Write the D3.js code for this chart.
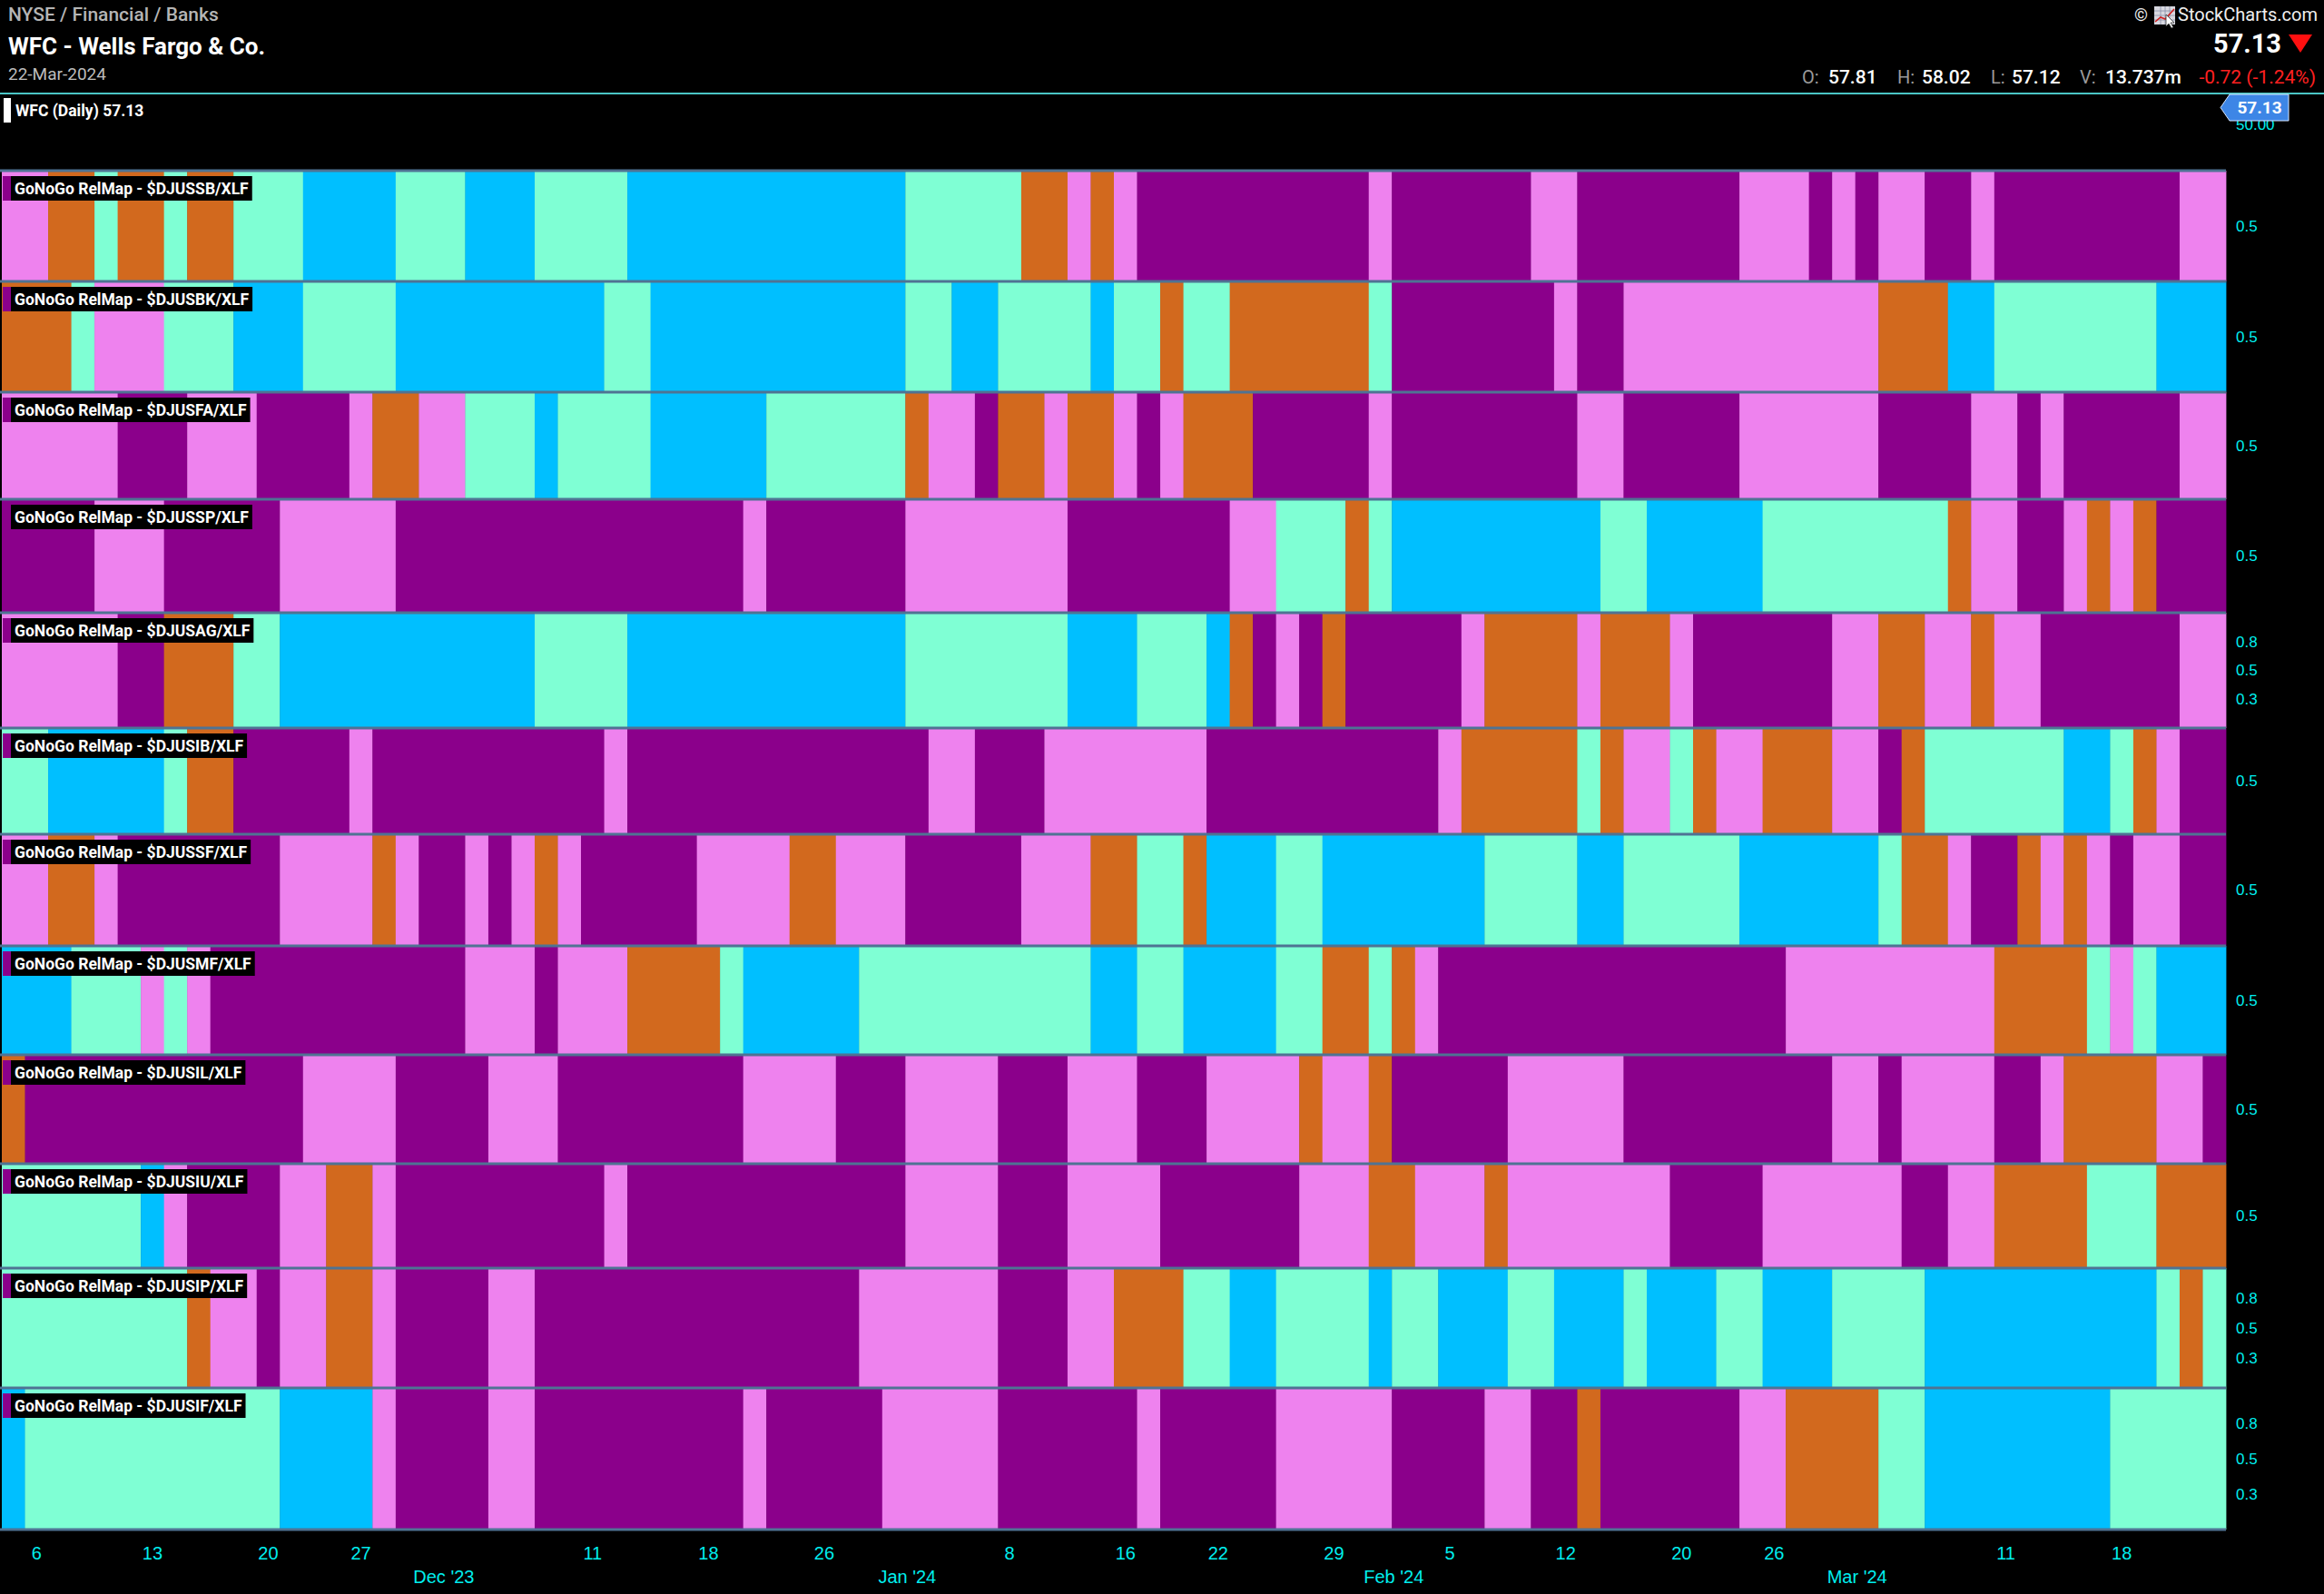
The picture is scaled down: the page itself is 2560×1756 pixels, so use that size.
<!DOCTYPE html>
<html>
<head>
<meta charset="utf-8">
<script src="https://cdn.jsdelivr.net/npm/d3@7"></script>
<style>
html,body{margin:0;padding:0;background:#000;overflow:hidden;}
svg{display:block;}
</style>
</head>
<body>
<svg id="chart" width="2560" height="1756"></svg>
<script>
// ---------------- DATA ----------------
const tradingDays = [
"2023-11-03","2023-11-06","2023-11-07","2023-11-08","2023-11-09","2023-11-10","2023-11-13","2023-11-14","2023-11-15","2023-11-16",
"2023-11-17","2023-11-20","2023-11-21","2023-11-22","2023-11-24","2023-11-27","2023-11-28","2023-11-29","2023-11-30","2023-12-01",
"2023-12-04","2023-12-05","2023-12-06","2023-12-07","2023-12-08","2023-12-11","2023-12-12","2023-12-13","2023-12-14","2023-12-15",
"2023-12-18","2023-12-19","2023-12-20","2023-12-21","2023-12-22","2023-12-26","2023-12-27","2023-12-28","2023-12-29","2024-01-02",
"2024-01-03","2024-01-04","2024-01-05","2024-01-08","2024-01-09","2024-01-10","2024-01-11","2024-01-12","2024-01-16","2024-01-17",
"2024-01-18","2024-01-19","2024-01-22","2024-01-23","2024-01-24","2024-01-25","2024-01-26","2024-01-29","2024-01-30","2024-01-31",
"2024-02-01","2024-02-02","2024-02-05","2024-02-06","2024-02-07","2024-02-08","2024-02-09","2024-02-12","2024-02-13","2024-02-14",
"2024-02-15","2024-02-16","2024-02-20","2024-02-21","2024-02-22","2024-02-23","2024-02-26","2024-02-27","2024-02-28","2024-02-29",
"2024-03-01","2024-03-04","2024-03-05","2024-03-06","2024-03-07","2024-03-08","2024-03-11","2024-03-12","2024-03-13","2024-03-14",
"2024-03-15","2024-03-18","2024-03-19","2024-03-20","2024-03-21","2024-03-22"
];

// Panel symbols
const panelSymbols = ["$DJUSSB/XLF","$DJUSBK/XLF","$DJUSFA/XLF","$DJUSSP/XLF","$DJUSAG/XLF","$DJUSIB/XLF",
                      "$DJUSSF/XLF","$DJUSMF/XLF","$DJUSIL/XLF","$DJUSIU/XLF","$DJUSIP/XLF","$DJUSIF/XLF"];

// Daily GoNoGo states per panel: B = strong Go, G = weak Go, O = amber, P = weak NoGo, M = strong NoGo
const panelStates = [
 "PPOOGOOGOO"+"GGGBBBBGGG"+"BBBGGGGBBB"+"BBBBBBBBBG"+"GGGGOOPOPM"+"MMMMMMMMMP"+"MMMMMMPPMM"+"MMMMMPPPMP"+"MPPMMPMMMM"+"MMMMPP",
 "OOOGPPPGGG"+"BBBGGGGBBB"+"BBBBBBGGBB"+"BBBBBBBBBG"+"GBBGGGGBGG"+"OGGOOOOOOG"+"MMMMMMMPMM"+"PPPPPPPPPP"+"POOOBBGGGG"+"GGGBBB",
 "PPPPPMMMPP"+"PMMMMPOOPP"+"GGGBGGGGBB"+"BBBGGGGGGO"+"PPMOOPOOPM"+"POOOMMMMMP"+"MMMMMMMMPP"+"MMMMMPPPPP"+"PMMMMPPMPM"+"MMMMPP",
 "MMMMPPPMMM"+"MMPPPPPMMM"+"MMMMMMMMMM"+"MMPMMMMMMP"+"PPPPPPMMMM"+"MMMPPGGGOG"+"BBBBBBBBBG"+"GBBBBBGGGG"+"GGGGOPPMMP"+"OPOMMM",
 "PPPPPMMOOO"+"GGBBBBBBBB"+"BBBGGGGBBB"+"BBBBBBBBBG"+"GGGGGGBBBG"+"GGBOMPMOMM"+"MMMPOOOOPO"+"OOPMMMMMMP"+"POOPPOPPMM"+"MMMMPP",
 "GGBBBBBGOO"+"MMMMMPMMMM"+"MMMMMMPMMM"+"MMMMMMMMMM"+"PPMMMPPPPP"+"PPMMMMMMMM"+"MMPOOOOOGO"+"PPGOPPOOOP"+"PMOGGGGGGB"+"BGOPMM",
 "PPOOPMMMMM"+"MMPPPPOPMM"+"PMPOPMMMMM"+"PPPPOOPPPM"+"MMMMPPPOOG"+"GOBBBGGBBB"+"BBBBGGGGBB"+"GGGGGBBBBB"+"BGOOPMMOPO"+"PMPPMM",
 "BBBGGGPGPM"+"MMMMMMMMMM"+"PPPMPPPOOO"+"OGBBBBBGGG"+"GGGGGGGBBG"+"GBBBBGGOOG"+"OPMMMMMMMM"+"MMMMMMMPPP"+"PPPPPPOOOO"+"GPGBBB",
 "OMMMMMMMMM"+"MMMPPPPMMM"+"MPPPMMMMMM"+"MMPPPPMMMP"+"PPPMMMPPPM"+"MMPPPPOPPO"+"MMMMMPPPPP"+"MMMMMMMMMP"+"PMPPPPMMPO"+"OOOPPM",
 "GGGGGGBPMM"+"MMPPOOPMMM"+"MMMMMMPMMM"+"MMMMMMMMMP"+"PPPMMMPPPP"+"MMMMMMPPPO"+"OPPPOPPPPP"+"PPMMMMPPPP"+"PPMMPPOOOO"+"GGGOOO",
 "GGGGGGGGOP"+"PMPPOOPMMM"+"MPPMMMMMMM"+"MMMMMMMPPP"+"PPPMMMPPOO"+"OGGBBGGGGB"+"GGBBBGGBBB"+"GBBBGGBBBG"+"GGGBBBBBBB"+"BBBGOG",
 "BGGGGGGGGG"+"GGBBBBPMMM"+"MPPMMMMMMM"+"MMPMMMMMPP"+"PPPMMMMMMP"+"MMMMMPPPPP"+"MMMMPPMMOM"+"MMMMMPPOOO"+"OGGBBBBBBB"+"BGGGGG"
];

// Right axis tick values per panel
const panelTicks = [[0.5],[0.5],[0.5],[0.5],[0.25,0.5,0.75],[0.5],[0.5],[0.5],[0.5],[0.5],[0.25,0.5,0.75],[0.25,0.5,0.75]];

// X axis labels
const weekTickDates  = ["2023-11-06","2023-11-13","2023-11-20","2023-11-27","2023-12-11","2023-12-18","2023-12-26","2024-01-08","2024-01-16","2024-01-22","2024-01-29","2024-02-05","2024-02-12","2024-02-20","2024-02-26","2024-03-11","2024-03-18"];
const weekTickLabels = ["6","13","20","27","11","18","26","8","16","22","29","5","12","20","26","11","18"];
const monthTickDates  = ["2023-12-01","2024-01-02","2024-02-01","2024-03-01"];
const monthTickLabels = ["Dec '23","Jan '24","Feb '24","Mar '24"];

// Header values
const headerSector = "NYSE / Financial / Banks";
const headerTitle = "WFC - Wells Fargo & Co.";
const headerDate = "22-Mar-2024";
const lastPrice = "57.13";
const ohlcLabels = ["O:","H:","L:","V:"];
const ohlcValues = ["57.81","58.02","57.12","13.737m"];
const changeText = "-0.72 (-1.24%)";
const priceAxisLabel = "50.00";

// ---------------- STYLE / LAYOUT ----------------
const stateColors = {B:"#00BFFF", G:"#7FFFD4", O:"#D2691E", P:"#EE82EE", M:"#8B008B"};
const panelHeights = [122,122,118,125,127,117,123,120,120,115,132,156];
const plotLeft = 2, plotRight = 2452, panelTop = 188;
const roboto = "Roboto, 'Noto Sans', 'Liberation Sans', sans-serif";
const arial = "'Liberation Sans', Arial, sans-serif";
const cyan = "#00eeee";

const svg = d3.select("#chart");
svg.append("rect").attr("width",2560).attr("height",1756).attr("fill","#000");

const x = d3.scaleBand().domain(tradingDays).range([plotLeft, plotRight]).padding(0);

const tops = [];
let acc = panelTop;
panelHeights.forEach(h => { tops.push(acc); acc += h; });
const plotBottom = acc;

// group consecutive equal states into runs (start day, end day, state)
function toRuns(str) {
  const runs = [];
  for (let j = 0; j < tradingDays.length; j++) {
    const s = str[j];
    if (runs.length && runs[runs.length - 1].s === s) runs[runs.length - 1].last = tradingDays[j];
    else runs.push({first: tradingDays[j], last: tradingDays[j], s});
  }
  return runs;
}

// cells
const cellLayer = svg.append("g");
panelStates.forEach((str, i) => {
  const top = tops[i], h = panelHeights[i];
  cellLayer.append("g").selectAll("rect").data(toRuns(str)).join("rect")
    .attr("x", r => x(r.first))
    .attr("width", r => x(r.last) + x.bandwidth() - x(r.first) + 0.4)
    .attr("y", top)
    .attr("height", h)
    .attr("fill", r => stateColors[r.s]);
});

// separators
const sepYs = tops.concat([plotBottom]);
svg.append("g").selectAll("line").data(sepYs).join("line")
  .attr("x1", 0).attr("x2", plotRight)
  .attr("y1", d => d).attr("y2", d => d)
  .attr("stroke", "#4f7393").attr("stroke-width", 3);

// right axes per panel
panelTicks.forEach((tv, i) => {
  const top = tops[i], h = panelHeights[i];
  const y = d3.scaleLinear().domain([0,1]).range([top + h, top]);
  const g = svg.append("g").attr("transform", `translate(${plotRight},0)`)
    .call(d3.axisRight(y).tickValues(tv).tickFormat(d3.format(".1f")).tickSize(0).tickPadding(11));
  g.select(".domain").remove();
  g.selectAll("text").attr("fill", cyan).style("font-family", arial).style("font-size", "17px");
});

// panel labels
panelSymbols.forEach((sym, i) => {
  const top = tops[i];
  const g = svg.append("g");
  const bg = g.append("rect").attr("x", 3).attr("y", top + 6).attr("height", 27).attr("fill", "#000");
  g.append("rect").attr("x", 3).attr("y", top + 6).attr("width", 9).attr("height", 27).attr("fill", "#8B008B");
  const t = g.append("text").attr("x", 16).attr("y", top + 26)
    .attr("fill", "#fff").style("font-family", roboto).style("font-weight", "700").style("font-size", "17.5px")
    .text("GoNoGo RelMap - " + sym);
  const len = t.node().getComputedTextLength();
  bg.attr("width", 13 + len + 4);
});

// bottom axis (week labels)
const weekLabel = new Map(weekTickDates.map((d, i) => [d, weekTickLabels[i]]));
const xa = svg.append("g").attr("transform", `translate(0,${plotBottom})`)
  .call(d3.axisBottom(x).tickValues(weekTickDates).tickFormat(d => weekLabel.get(d)).tickSize(0).tickPadding(19));
xa.select(".domain").remove();
xa.selectAll("text").attr("fill", cyan).style("font-family", arial).style("font-size", "20px");

// month labels
svg.append("g").selectAll("text").data(monthTickDates).join("text")
  .attr("x", d => x(d) + 2)
  .attr("y", plotBottom + 59)
  .attr("text-anchor", "middle")
  .attr("fill", cyan).style("font-family", arial).style("font-size", "20px")
  .text((d, i) => monthTickLabels[i]);

// ---------------- HEADER ----------------
svg.append("text").attr("x", 9).attr("y", 23).attr("fill", "#b5b5b5")
  .style("font-family", roboto).style("font-weight", "500").style("font-size", "21px").text(headerSector);
svg.append("text").attr("x", 9).attr("y", 60).attr("fill", "#fff")
  .style("font-family", roboto).style("font-weight", "700").style("font-size", "26px").text(headerTitle);
svg.append("text").attr("x", 9).attr("y", 88).attr("fill", "#bdbdbd")
  .style("font-family", roboto).style("font-size", "19px").text(headerDate);

svg.append("line").attr("x1", 0).attr("x2", 2560).attr("y1", 103).attr("y2", 103)
  .attr("stroke", "#4ac6c6").attr("stroke-width", 2);

// price panel legend
svg.append("rect").attr("x", 4).attr("y", 108).attr("width", 8).attr("height", 27).attr("fill", "#fff");
svg.append("text").attr("x", 17).attr("y", 128).attr("fill", "#fff")
  .style("font-family", roboto).style("font-weight", "700").style("font-size", "17.5px")
  .text("WFC (Daily) " + lastPrice);

// top right: copyright
svg.append("text").attr("x", 2351).attr("y", 23).attr("fill", "#eee")
  .style("font-family", roboto).style("font-size", "19px").text("©");
const icon = svg.append("g").attr("transform", "translate(2373,7)");
icon.append("rect").attr("width", 23).attr("height", 20).attr("fill", "#d8d8e0");
[5,10,15].forEach(v => {
  icon.append("line").attr("x1", 0).attr("x2", 23).attr("y1", v).attr("y2", v).attr("stroke", "#8890a8").attr("stroke-width", 0.8);
  icon.append("line").attr("y1", 0).attr("y2", 20).attr("x1", v+2).attr("x2", v+2).attr("stroke", "#8890a8").attr("stroke-width", 0.8);
});
icon.append("polyline").attr("points", "1,17 7,12 12,14 22,3").attr("fill", "none").attr("stroke", "#d02020").attr("stroke-width", 1.6);
icon.append("path").attr("d", "M13,9 L13,22 L16,19 L19,24 L21,23 L18,18 L22,18 Z").attr("fill", "#fff").attr("stroke", "#333").attr("stroke-width", 0.8);
svg.append("text").attr("x", 2399).attr("y", 23).attr("fill", "#eee")
  .style("font-family", roboto).style("font-size", "20px").text("StockCharts.com");

// last price & arrow
svg.append("text").attr("x", 2513).attr("y", 58).attr("text-anchor", "end").attr("fill", "#fff")
  .style("font-family", roboto).style("font-weight", "700").style("font-size", "29px").text(lastPrice);
svg.append("path").attr("d", "M2521,38 L2547,38 L2534,58 Z").attr("fill", "#ff1010");

// OHLC line
const ohlcLabelX = [1985, 2090, 2193, 2291];
const ohlcValueX = [2014, 2117, 2216, 2319];
ohlcLabels.forEach((l, i) => {
  svg.append("text").attr("x", ohlcLabelX[i]).attr("y", 92).attr("fill", "#9a9a9a")
    .style("font-family", roboto).style("font-size", "20px").text(l);
  svg.append("text").attr("x", ohlcValueX[i]).attr("y", 92).attr("fill", "#fff")
    .style("font-family", roboto).style("font-weight", "500").style("font-size", "21px").text(ohlcValues[i]);
});
svg.append("text").attr("x", 2551).attr("y", 92).attr("text-anchor", "end").attr("fill", "#ff2020")
  .style("font-family", roboto).style("font-size", "21px").text(changeText);

// price axis label (partly hidden) + price tag
svg.append("text").attr("x", 2463).attr("y", 143).attr("fill", cyan)
  .style("font-family", arial).style("font-size", "17px").text(priceAxisLabel);
svg.append("path").attr("d", "M2446,118.5 L2456,104 L2521,104 L2521,133 L2456,133 Z")
  .attr("fill", "#3d86e6").attr("stroke", "#d6e6ff").attr("stroke-width", 1);
svg.append("text").attr("x", 2489).attr("y", 125).attr("text-anchor", "middle").attr("fill", "#fff")
  .style("font-family", roboto).style("font-weight", "700").style("font-size", "19px").text(lastPrice);
</script>
</body>
</html>
